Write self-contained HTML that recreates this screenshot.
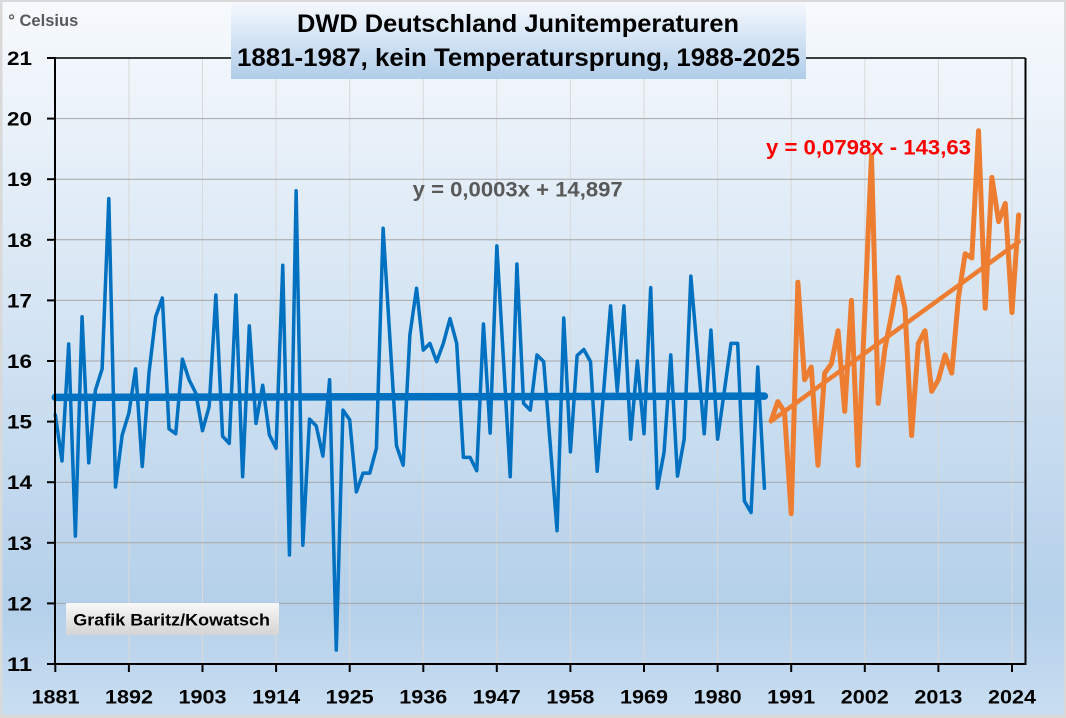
<!DOCTYPE html>
<html><head><meta charset="utf-8"><style>
html,body{margin:0;padding:0;background:#d9d9d9;}
svg{display:block;}
text{font-family:"Liberation Sans",Arial,sans-serif;font-weight:bold;}
</style></head><body>
<svg width="1066" height="718" viewBox="0 0 1066 718" xmlns="http://www.w3.org/2000/svg">
<defs>
<linearGradient id="bg" x1="0" y1="0" x2="0" y2="1">
<stop offset="0" stop-color="#f7fafd"/>
<stop offset="0.45" stop-color="#d4e4f3"/>
<stop offset="0.85" stop-color="#b4d0ea"/>
<stop offset="1" stop-color="#c9def1"/>
</linearGradient>
<linearGradient id="tb" x1="0" y1="0" x2="0" y2="1">
<stop offset="0" stop-color="#f4f8fd"/>
<stop offset="1" stop-color="#b0cdea"/>
</linearGradient>
<linearGradient id="gb" x1="0" y1="0" x2="0" y2="1">
<stop offset="0" stop-color="#f8f8f8"/>
<stop offset="1" stop-color="#d4d4d4"/>
</linearGradient>
</defs>
<rect x="0" y="0" width="1066" height="718" fill="#d9d9d9"/>
<rect x="2.5" y="2" width="1061.5" height="713" fill="url(#bg)"/>

<!-- vertical gridlines -->
<g stroke="#d9d9d9" stroke-width="1">
<line x1="128.9" y1="58" x2="128.9" y2="664"/>
<line x1="202.5" y1="58" x2="202.5" y2="664"/>
<line x1="276.1" y1="58" x2="276.1" y2="664"/>
<line x1="349.7" y1="58" x2="349.7" y2="664"/>
<line x1="423.3" y1="58" x2="423.3" y2="664"/>
<line x1="496.8" y1="58" x2="496.8" y2="664"/>
<line x1="570.4" y1="58" x2="570.4" y2="664"/>
<line x1="644.0" y1="58" x2="644.0" y2="664"/>
<line x1="717.6" y1="58" x2="717.6" y2="664"/>
<line x1="791.2" y1="58" x2="791.2" y2="664"/>
<line x1="864.8" y1="58" x2="864.8" y2="664"/>
<line x1="938.4" y1="58" x2="938.4" y2="664"/>
<line x1="1012.0" y1="58" x2="1012.0" y2="664"/>
</g>
<!-- horizontal gridlines -->
<g stroke="#a6a6a6" stroke-width="1">
<line x1="55" y1="603.4" x2="1025.5" y2="603.4"/>
<line x1="55" y1="542.8" x2="1025.5" y2="542.8"/>
<line x1="55" y1="482.2" x2="1025.5" y2="482.2"/>
<line x1="55" y1="421.6" x2="1025.5" y2="421.6"/>
<line x1="55" y1="361.0" x2="1025.5" y2="361.0"/>
<line x1="55" y1="300.4" x2="1025.5" y2="300.4"/>
<line x1="55" y1="239.8" x2="1025.5" y2="239.8"/>
<line x1="55" y1="179.2" x2="1025.5" y2="179.2"/>
<line x1="55" y1="118.6" x2="1025.5" y2="118.6"/>
</g>
<!-- plot frame -->
<line x1="55" y1="58" x2="1025.5" y2="58" stroke="#000" stroke-width="1.5"/>
<line x1="1025.5" y1="58" x2="1025.5" y2="664" stroke="#000" stroke-width="2"/>

<!-- data -->
<g transform="translate(55.3 664) scale(6.69 -60.6) translate(0 -11)" fill="none" stroke-linejoin="round" stroke-linecap="round">
<polyline vector-effect="non-scaling-stroke" stroke="#0070c0" stroke-width="3.5" points="0,15.11 1,14.35 2,16.28 3,13.11 4,16.73 5,14.32 6,15.52 7,15.87 8,18.68 9,13.92 10,14.78 11,15.14 12,15.87 13,14.26 14,15.8 15,16.73 16,17.04 17,14.88 18,14.8 19,16.03 20,15.69 21,15.47 22,14.85 23,15.25 24,17.09 25,14.76 26,14.64 27,17.09 28,14.09 29,16.58 30,14.97 31,15.6 32,14.78 33,14.56 34,17.58 35,12.8 36,18.81 37,12.96 38,15.04 39,14.93 40,14.43 41,15.69 42,11.23 43,15.19 44,15.03 45,13.84 46,14.15 47,14.15 48,14.56 49,18.19 50,16.4 51,14.6 52,14.28 53,16.43 54,17.2 55,16.18 56,16.29 57,15.99 58,16.29 59,16.7 60,16.29 61,14.41 62,14.41 63,14.19 64,16.61 65,14.81 66,17.9 67,16.0 68,14.09 69,17.6 70,15.3 71,15.19 72,16.1 73,15.99 74,14.6 75,13.2 76,16.71 77,14.5 78,16.09 79,16.19 80,15.99 81,14.18 82,15.55 83,16.91 84,15.5 85,16.91 86,14.71 87,16.0 88,14.8 89,17.21 90,13.9 91,14.5 92,16.1 93,14.1 94,14.71 95,17.4 96,16.1 97,14.8 98,16.51 99,14.71 100,15.5 101,16.29 102,16.29 103,13.69 104,13.5 105,15.9 106,13.9"/>
<polyline vector-effect="non-scaling-stroke" stroke="#0070c0" stroke-width="7.5" points="0,15.40 106,15.42"/>
<polyline vector-effect="non-scaling-stroke" stroke="#ed7d31" stroke-width="5" points="107,15.01 108,15.33 109,15.16 110,13.48 111,17.3 112,15.69 113,15.9 114,14.28 115,15.8 116,15.95 117,16.5 118,15.17 119,17.0 120,14.28 121,16.8 122,19.4 123,15.3 124,16.2 125,16.76 126,17.38 127,16.87 128,14.77 129,16.29 130,16.5 131,15.5 132,15.69 133,16.1 134,15.8 135,17.05 136,17.77 137,17.7 138,19.8 139,16.87 140,19.03 141,18.3 142,18.6 143,16.8 144,18.41"/>
<polyline vector-effect="non-scaling-stroke" stroke="#ed7d31" stroke-width="4.5" points="107,15.01 144,17.965"/>
</g>

<!-- axes -->
<line x1="55" y1="57" x2="55" y2="665" stroke="#000" stroke-width="2"/>
<line x1="54" y1="664" x2="1026.5" y2="664" stroke="#000" stroke-width="2"/>
<g stroke="#000" stroke-width="2">
<line x1="47" y1="664" x2="55" y2="664"/>
<line x1="47" y1="603.4" x2="55" y2="603.4"/>
<line x1="47" y1="542.8" x2="55" y2="542.8"/>
<line x1="47" y1="482.2" x2="55" y2="482.2"/>
<line x1="47" y1="421.6" x2="55" y2="421.6"/>
<line x1="47" y1="361.0" x2="55" y2="361.0"/>
<line x1="47" y1="300.4" x2="55" y2="300.4"/>
<line x1="47" y1="239.8" x2="55" y2="239.8"/>
<line x1="47" y1="179.2" x2="55" y2="179.2"/>
<line x1="47" y1="118.6" x2="55" y2="118.6"/>
<line x1="47" y1="58" x2="55" y2="58"/>
<line x1="55.3" y1="664" x2="55.3" y2="672"/>
<line x1="128.9" y1="664" x2="128.9" y2="672"/>
<line x1="202.5" y1="664" x2="202.5" y2="672"/>
<line x1="276.1" y1="664" x2="276.1" y2="672"/>
<line x1="349.7" y1="664" x2="349.7" y2="672"/>
<line x1="423.3" y1="664" x2="423.3" y2="672"/>
<line x1="496.8" y1="664" x2="496.8" y2="672"/>
<line x1="570.4" y1="664" x2="570.4" y2="672"/>
<line x1="644.0" y1="664" x2="644.0" y2="672"/>
<line x1="717.6" y1="664" x2="717.6" y2="672"/>
<line x1="791.2" y1="664" x2="791.2" y2="672"/>
<line x1="864.8" y1="664" x2="864.8" y2="672"/>
<line x1="938.4" y1="664" x2="938.4" y2="672"/>
<line x1="1012.0" y1="664" x2="1012.0" y2="672"/>
</g>

<!-- y labels -->
<g fill="#000" font-size="19.5">
<text x="7" y="671" textLength="25" lengthAdjust="spacingAndGlyphs">11</text>
<text x="7" y="610.4" textLength="25" lengthAdjust="spacingAndGlyphs">12</text>
<text x="7" y="549.8" textLength="25" lengthAdjust="spacingAndGlyphs">13</text>
<text x="7" y="489.2" textLength="25" lengthAdjust="spacingAndGlyphs">14</text>
<text x="7" y="428.6" textLength="25" lengthAdjust="spacingAndGlyphs">15</text>
<text x="7" y="368" textLength="25" lengthAdjust="spacingAndGlyphs">16</text>
<text x="7" y="307.4" textLength="25" lengthAdjust="spacingAndGlyphs">17</text>
<text x="7" y="246.8" textLength="25" lengthAdjust="spacingAndGlyphs">18</text>
<text x="7" y="186.2" textLength="25" lengthAdjust="spacingAndGlyphs">19</text>
<text x="7" y="125.6" textLength="25" lengthAdjust="spacingAndGlyphs">20</text>
<text x="7" y="65" textLength="25" lengthAdjust="spacingAndGlyphs">21</text>
</g>
<!-- x labels -->
<g fill="#000" font-size="19.5">
<text x="31.5" y="703.5" textLength="48" lengthAdjust="spacingAndGlyphs">1881</text>
<text x="105" y="703.5" textLength="48" lengthAdjust="spacingAndGlyphs">1892</text>
<text x="178.5" y="703.5" textLength="48" lengthAdjust="spacingAndGlyphs">1903</text>
<text x="252.1" y="703.5" textLength="48" lengthAdjust="spacingAndGlyphs">1914</text>
<text x="325.7" y="703.5" textLength="48" lengthAdjust="spacingAndGlyphs">1925</text>
<text x="399.3" y="703.5" textLength="48" lengthAdjust="spacingAndGlyphs">1936</text>
<text x="472.8" y="703.5" textLength="48" lengthAdjust="spacingAndGlyphs">1947</text>
<text x="546.4" y="703.5" textLength="48" lengthAdjust="spacingAndGlyphs">1958</text>
<text x="620" y="703.5" textLength="48" lengthAdjust="spacingAndGlyphs">1969</text>
<text x="693.6" y="703.5" textLength="48" lengthAdjust="spacingAndGlyphs">1980</text>
<text x="767.2" y="703.5" textLength="48" lengthAdjust="spacingAndGlyphs">1991</text>
<text x="840.8" y="703.5" textLength="48" lengthAdjust="spacingAndGlyphs">2002</text>
<text x="914.4" y="703.5" textLength="48" lengthAdjust="spacingAndGlyphs">2013</text>
<text x="988" y="703.5" textLength="48" lengthAdjust="spacingAndGlyphs">2024</text>
</g>

<!-- equations -->
<text x="412.7" y="196.7" font-size="21" fill="#595959" textLength="210" lengthAdjust="spacingAndGlyphs">y = 0,0003x + 14,897</text>
<text x="766" y="154.3" font-size="21" fill="#ff0000" textLength="205" lengthAdjust="spacingAndGlyphs">y = 0,0798x - 143,63</text>

<!-- unit -->
<text x="8.3" y="26" font-size="17" fill="#595959" textLength="70" lengthAdjust="spacingAndGlyphs">° Celsius</text>

<!-- title -->
<rect x="231" y="3" width="575" height="76" fill="url(#tb)"/>
<text x="297" y="32" font-size="25" fill="#000" textLength="442" lengthAdjust="spacingAndGlyphs">DWD Deutschland Junitemperaturen</text>
<text x="237" y="66" font-size="25" fill="#000" textLength="563" lengthAdjust="spacingAndGlyphs">1881-1987, kein Temperatursprung, 1988-2025</text>

<!-- credit -->
<rect x="66" y="603" width="213" height="32" fill="url(#gb)"/>
<text x="73.3" y="625.7" font-size="17" fill="#000" textLength="196.7" lengthAdjust="spacingAndGlyphs">Grafik Baritz/Kowatsch</text>
</svg>
</body></html>
